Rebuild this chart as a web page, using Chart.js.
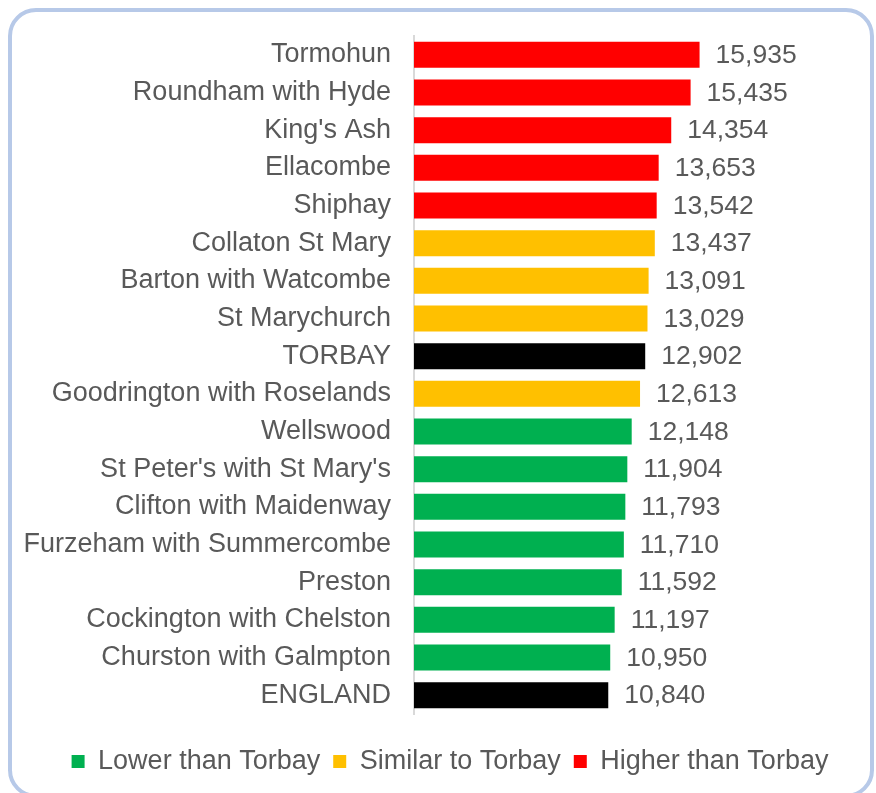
<!DOCTYPE html>
<html>
<head>
<meta charset="utf-8">
<script src="https://cdn.jsdelivr.net/npm/chart.js@4"></script>
<style>
    html, body { margin: 0; padding: 0; background: #ffffff; }
    #wrap { position: relative; width: 876px; height: 793px; overflow: hidden; }
    #frame {
        position: absolute; left: 8px; top: 8px; width: 866px; height: 790px;
        box-sizing: border-box; border: 4px solid #b7c9e8; border-radius: 28px;
        pointer-events: none;
    }
</style>
</head>
<body>
<div id="wrap">
    <canvas id="wards" width="876" height="793"></canvas>
    <div id="frame"></div>
</div>
<script>
// ward names, top to bottom
var wards = [
    "Tormohun", "Roundham with Hyde", "King's Ash", "Ellacombe", "Shiphay",
    "Collaton St Mary", "Barton with Watcombe", "St Marychurch", "TORBAY",
    "Goodrington with Roselands", "Wellswood", "St Peter's with St Mary's",
    "Clifton with Maidenway", "Furzeham with Summercombe", "Preston",
    "Cockington with Chelston", "Churston with Galmpton", "ENGLAND"
];
var rates = [
    15935, 15435, 14354, 13653, 13542,
    13437, 13091, 13029, 12902,
    12613, 12148, 11904,
    11793, 11710, 11592,
    11197, 10950, 10840
];
// comparison with Torbay for each ward
var groups = [
    "higher", "higher", "higher", "higher", "higher",
    "similar", "similar", "similar", "area",
    "similar", "lower", "lower",
    "lower", "lower", "lower",
    "lower", "lower", "area"
];
var groupNames = ["lower", "similar", "higher"];
var groupLabels = ["Lower than Torbay", "Similar to Torbay", "Higher than Torbay"];

var colours = { lower: "#00b050", similar: "#ffc000", higher: "#ff0000", area: "#000000" };
var textColour = "#595959";
var font = "'Liberation Sans', Arial, sans-serif";

var valueLabels = {
    id: "valueLabels",
    afterDatasetsDraw(chart) {
        var ctx = chart.ctx;
        var meta = chart.getDatasetMeta(0);
        ctx.save();
        ctx.font = "26.5px " + font;
        ctx.fillStyle = textColour;
        ctx.textAlign = "left";
        ctx.textBaseline = "middle";
        meta.data.forEach((bar, i) => {
            ctx.fillText(rates[i].toLocaleString("en-GB"), bar.x + 16, bar.y + 1);
        });
        ctx.restore();
    }
};

var ctx = document.getElementById("wards").getContext("2d");
var myChart = new Chart(ctx, {
    type: "bar",
    data: {
        labels: wards,
        datasets: [
            {
                data: rates,
                backgroundColor: groups.map((g) => colours[g]),
                categoryPercentage: 1,
                barPercentage: 0.69,
            },
        ],
    },
    options: {
        indexAxis: "y",
        responsive: false,
        animation: false,
        layout: {
            padding: { top: 36, left: 24, right: 0, bottom: 8 },
        },
        scales: {
            x: {
                min: 0,
                max: 25780,
                grid: { display: false },
                border: { display: false },
                ticks: { display: false },
                afterFit: (scale) => { scale.height = 21; },
            },
            y: {
                grid: { display: false },
                border: { display: true, color: "#d9d9d9", width: 2 },
                ticks: {
                    color: textColour,
                    padding: 15,
                    font: { family: font, size: 27 },
                },
                afterFit: (scale) => { scale.width = 390; },
            },
        },
        plugins: {
            tooltip: { enabled: false },
            legend: {
                position: "bottom",
                labels: {
                    boxWidth: 13,
                    boxHeight: 13,
                    padding: 13,
                    color: textColour,
                    font: { family: font, size: 27 },
                    generateLabels: () => groupNames.map((g, i) => ({
                        text: groupLabels[i],
                        fillStyle: colours[g],
                        strokeStyle: colours[g],
                        lineWidth: 0,
                        fontColor: textColour,
                    })),
                },
            },
        },
    },
    plugins: [valueLabels],
});
</script>
</body>
</html>
